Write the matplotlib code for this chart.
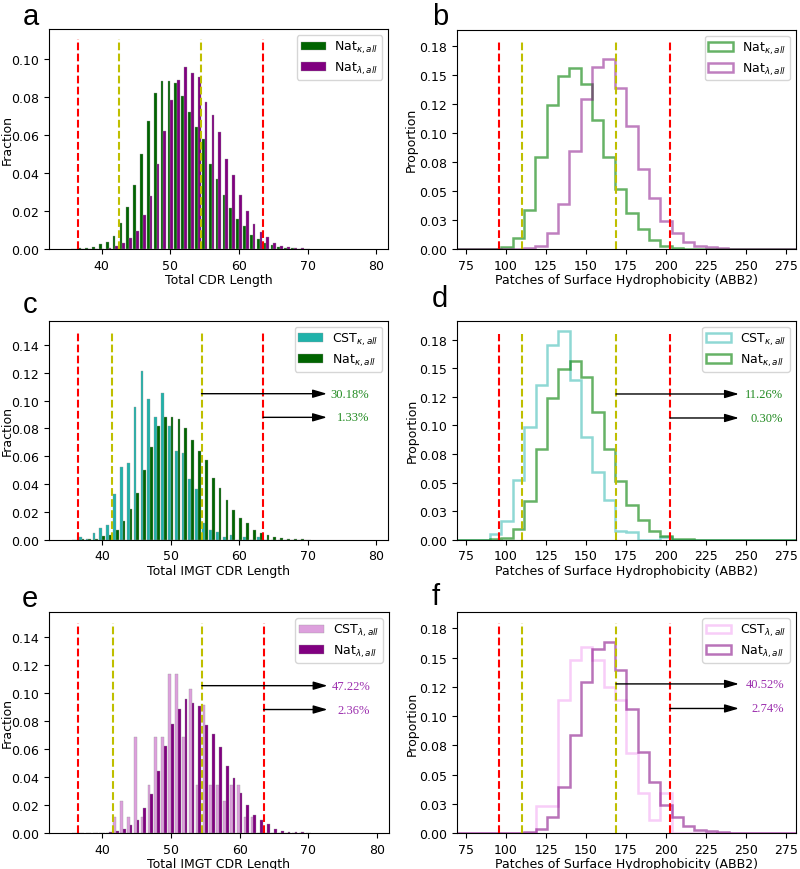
import numpy as np
import matplotlib
matplotlib.use("Agg")
import matplotlib.pyplot as plt

plt.rcParams["font.size"] = 9

# total CDR length, one bin per residue count
cdr_len = np.arange(36, 71)
nat_kappa_len = [0, 0.0003, 0.0005, 0.0008, 0.0025, 0.0035, 0.007, 0.0135, 0.022, 0.0335,
                 0.050, 0.067, 0.082, 0.088, 0.088, 0.087, 0.0805, 0.072, 0.064, 0.0575,
                 0.0445, 0.037, 0.0285, 0.0215, 0.0155, 0.012, 0.0072, 0.005, 0.0032, 0.002,
                 0.0012, 0.0006, 0.0003, 0.0002, 0]
nat_lambda_len = [0, 0, 0, 0.0001, 0.0002, 0.0005, 0.0015, 0.003, 0.0058, 0.0095,
                  0.018, 0.028, 0.0445, 0.062, 0.078, 0.0885, 0.0955, 0.0925, 0.0905, 0.077,
                  0.0705, 0.0615, 0.0475, 0.039, 0.0285, 0.020, 0.013, 0.009, 0.0065, 0.003,
                  0.0015, 0.001, 0.0007, 0.0005, 0.0002]
cst_kappa_len = [0, 0.0017, 0.0003, 0.0048, 0.0084, 0.0105, 0.0327, 0.052, 0.0554, 0.0955,
                 0.1215, 0.101, 0.0885, 0.1055, 0.0816, 0.064, 0.0625, 0.0434, 0.0363, 0.012,
                 0.0072, 0.0052, 0.0017, 0.0033, 0, 0.0017, 0, 0.0017, 0, 0,
                 0, 0, 0, 0, 0]
cst_lambda_len = [0, 0, 0, 0, 0, 0, 0.0114, 0.0227, 0.0114, 0.0682,
                  0.0114, 0.0341, 0.0682, 0.0682, 0.1136, 0.1136, 0.0682, 0.1023, 0.0341, 0.0909,
                  0.0341, 0.0341, 0.0227, 0.0341, 0.0341, 0.0114, 0.0114, 0, 0, 0,
                  0, 0, 0, 0, 0]

# patches of surface hydrophobicity, shared bin edges
hyd_edges = [68.7, 75.8, 82.9, 90.0, 97.1, 104.2, 111.3, 118.4, 125.5, 132.6,
             139.7, 146.8, 153.9, 161.0, 168.1, 175.2, 182.3, 189.4, 196.5, 203.6,
             210.7, 217.8, 224.9, 232.0, 239.1, 246.2, 253.3, 260.4, 267.5, 274.6, 281.7]
nat_kappa_hyd = [0, 0, 0.0001, 0.0004, 0.0015, 0.0092, 0.0335, 0.0795, 0.1238, 0.149,
                 0.156, 0.1425, 0.1115, 0.079, 0.0518, 0.0306, 0.017, 0.008, 0.003, 0.001,
                 0.0004, 0.0001, 0, 0, 0, 0, 0, 0, 0, 0]
nat_lambda_hyd = [0, 0, 0, 0, 0, 0.0003, 0.0008, 0.003, 0.0138, 0.039,
                  0.084, 0.129, 0.157, 0.1635, 0.139, 0.106, 0.069, 0.0437, 0.0243, 0.0134,
                  0.0063, 0.0023, 0.0014, 0.0005, 0.0002, 0.0001, 0, 0, 0, 0]
cst_kappa_hyd = [0, 0, 0, 0.005, 0.016, 0.052, 0.099, 0.135, 0.170, 0.1825,
                 0.140, 0.090, 0.059, 0.0345, 0.0078, 0.0064, 0, 0, 0.002, 0,
                 0, 0, 0, 0, 0, 0, 0, 0, 0, 0]
cst_lambda_hyd = [0, 0, 0, 0, 0, 0, 0, 0.0227, 0.0227, 0.1136,
                  0.1477, 0.1591, 0.1477, 0.125, 0.1136, 0.0682, 0.0341, 0.0114, 0.0341, 0,
                  0, 0, 0, 0, 0, 0, 0, 0, 0, 0]

len_cut_a = [36.5, 42.5, 54.5, 63.5]
len_cut_ce = [36.5, 41.5, 54.5, 63.5]
hyd_cut = [95.7, 110.0, 168.7, 202.5]

pct_c = ["30.18%", "1.33%"]
pct_d = ["11.26%", "0.30%"]
pct_e = ["47.22%", "2.36%"]
pct_f = ["40.52%", "2.74%"]

lab_nk = r"Nat$_{\kappa, all}$"
lab_nl = r"Nat$_{\lambda, all}$"
lab_ck = r"CST$_{\kappa, all}$"
lab_cl = r"CST$_{\lambda, all}$"

W, H = 800, 870
fig = plt.figure(figsize=(W / 100, H / 100), dpi=100)


def px_axes(l, t, r, b):
    return fig.add_axes([l / W, 1 - b / H, (r - l) / W, (b - t) / H])


def draw_cuts(ax, cuts, top):
    ax.vlines([cuts[0], cuts[3]], 0, top, colors="red", linestyles="--", lw=1.5)
    ax.vlines([cuts[1], cuts[2]], 0, top, colors="y", linestyles="--", lw=1.5)


def legend(ax):
    ax.legend(loc="upper right", fontsize=9, borderpad=0.3, labelspacing=0.35,
              handletextpad=0.7)


def len_panel(ax, left, right, cols, labels, cuts, top, yticks, xlabel):
    ax.bar(cdr_len - 0.2, left, width=0.4, color=cols[0], edgecolor="#999999", lw=0.25, label=labels[0])
    ax.bar(cdr_len + 0.2, right, width=0.4, color=cols[1], edgecolor="#999999", lw=0.25, label=labels[1])
    draw_cuts(ax, cuts, top)
    ax.set_xlim(32.25, 81.75)
    ax.set_ylim(0, top * 1.05)
    ax.set_xticks([40, 50, 60, 70, 80])
    ax.set_yticks(yticks)
    ax.set_yticklabels(["%.2f" % v for v in yticks])
    ax.set_ylabel("Fraction")
    ax.yaxis.set_label_coords(-0.103, 0.5)
    ax.set_xlabel(xlabel, labelpad=1)
    legend(ax)


def hyd_panel(ax, vals, cols, alphas, labels, cuts, top):
    centers = [(hyd_edges[i] + hyd_edges[i + 1]) / 2 for i in range(len(hyd_edges) - 1)]
    for v, c, a, l in zip(vals, cols, alphas, labels):
        ax.hist(centers, bins=hyd_edges, weights=v, histtype="step", color=c, alpha=a, lw=1.8, label=l)
    draw_cuts(ax, cuts, 0.18)
    ax.set_xlim(69.3, 281.3)
    ax.set_ylim(0, top * 1.05)
    ax.set_xticks([75, 100, 125, 150, 175, 200, 225, 250, 275])
    ax.set_yticks([0, 0.025, 0.05, 0.075, 0.1, 0.125, 0.15, 0.175])
    ax.set_yticklabels(["0.00", "0.03", "0.05", "0.08", "0.10", "0.12", "0.15", "0.18"])
    ax.set_ylabel("Proportion")
    ax.yaxis.set_label_coords(-0.114, 0.5)
    ax.set_xlabel("Patches of Surface Hydrophobicity (ABB2)", labelpad=1)
    legend(ax)


def arrows(ax, starts, ys, tip, txt_x, texts, color):
    for s, y, t in zip(starts, ys, texts):
        ax.annotate("", xy=(tip, y), xytext=(s, y),
                    arrowprops=dict(arrowstyle="-|>,head_length=0.85,head_width=0.25",
                                    color="black", lw=1, mutation_scale=10, shrinkA=0, shrinkB=0))
        ax.text(txt_x, y, t, ha="right", va="center", color=color,
                family="Liberation Serif", fontsize=9)


ax_a = px_axes(48.5, 30, 388.3, 250)
len_panel(ax_a, nat_kappa_len, nat_lambda_len, ["darkgreen", "purple"], [lab_nk, lab_nl],
          len_cut_a, 0.11, [0, 0.02, 0.04, 0.06, 0.08, 0.10], "Total CDR Length")

ax_b = px_axes(456.7, 30.5, 796, 250)
hyd_panel(ax_b, [nat_kappa_hyd, nat_lambda_hyd], ["green", "purple"], [0.6, 0.5],
          [lab_nk, lab_nl], hyd_cut, 0.18)

ax_c = px_axes(49, 321.7, 388.3, 540.7)
len_panel(ax_c, cst_kappa_len, nat_kappa_len, ["lightseagreen", "darkgreen"], [lab_ck, lab_nk],
          len_cut_ce, 0.15, [0, 0.02, 0.04, 0.06, 0.08, 0.10, 0.12, 0.14], "Total IMGT CDR Length")
arrows(ax_c, [54.5, 63.5], [0.105, 0.088], 72.8, 79.0, pct_c, "forestgreen")

ax_d = px_axes(457, 321.7, 796, 540.7)
hyd_panel(ax_d, [cst_kappa_hyd, nat_kappa_hyd], ["lightseagreen", "green"], [0.5, 0.6],
          [lab_ck, lab_nk], hyd_cut, max(cst_kappa_hyd))
arrows(ax_d, [hyd_cut[2], hyd_cut[3]], [0.1275, 0.1065], 245.6, 273.3, pct_d, "forestgreen")

ax_e = px_axes(49, 613, 389, 834)
len_panel(ax_e, cst_lambda_len, nat_lambda_len, ["plum", "purple"], [lab_cl, lab_nl],
          len_cut_ce, 0.15, [0, 0.02, 0.04, 0.06, 0.08, 0.10, 0.12, 0.14], "Total IMGT CDR Length")
arrows(ax_e, [54.5, 63.5], [0.105, 0.088], 72.8, 79.0, pct_e, "#9c2fae")

ax_f = px_axes(457, 613, 796, 834)
hyd_panel(ax_f, [cst_lambda_hyd, nat_lambda_hyd], ["violet", "purple"], [0.4, 0.55],
          [lab_cl, lab_nl], hyd_cut, 0.18)
arrows(ax_f, [hyd_cut[2], hyd_cut[3]], [0.1275, 0.1065], 245.6, 274.0, pct_f, "#9c2fae")

# panel letters
for letter, x, base in [("a", 22.7, 25), ("b", 431.7, 25), ("c", 22.7, 313),
                        ("d", 431.7, 307), ("e", 21.7, 606.7), ("f", 431.7, 605)]:
    fig.text(x / W, 1 - base / H, letter, fontsize=21, family="Liberation Sans", va="baseline")

fig.savefig("out.png", dpi=100)
